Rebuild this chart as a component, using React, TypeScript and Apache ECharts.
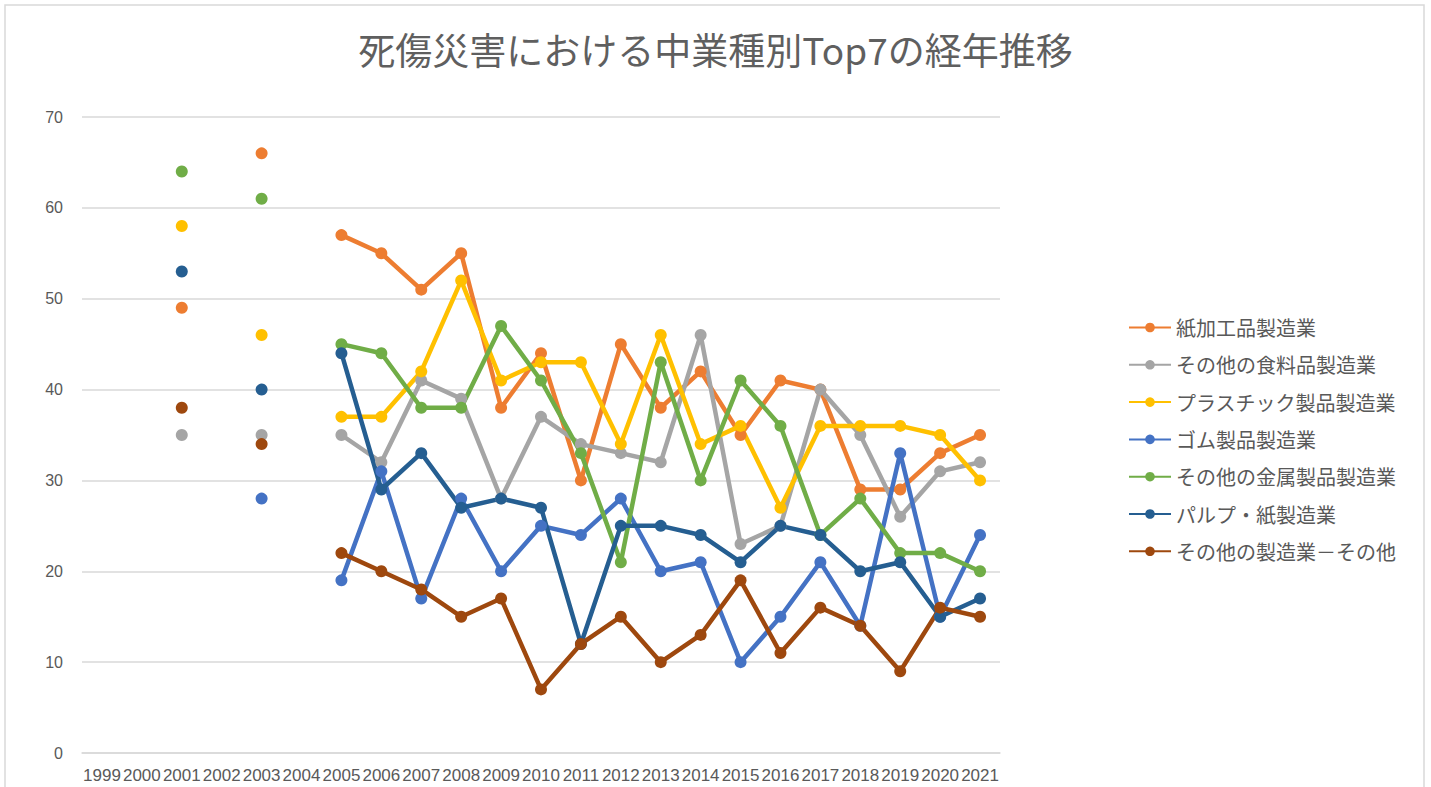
import React, { useEffect, useRef } from "react";
import * as echarts from "echarts";

const years = ["1999","2000","2001","2002","2003","2004","2005","2006","2007","2008","2009","2010","2011","2012","2013","2014","2015","2016","2017","2018","2019","2020","2021"];
const names = ["紙加工品製造業","その他の食料品製造業","プラスチック製品製造業","ゴム製品製造業","その他の金属製品製造業","パルプ・紙製造業","その他の製造業－その他"];
const colors = ["#ED7D31","#A5A5A5","#FFC000","#4472C4","#70AD47","#255E91","#9E480E"];
const N = null;
const paper =    [N,N,49,N,66,N,57,55,51,55,38,44,30,45,38,42,35,41,40,29,29,33,35];
const food =     [N,N,35,N,35,N,35,32,41,39,28,37,34,33,32,46,23,25,40,35,26,31,32];
const plastic =  [N,N,58,N,46,N,37,37,42,52,41,43,43,34,46,34,36,27,36,36,36,35,30];
const rubber =   [N,N,N,N,28,N,19,31,17,28,20,25,24,28,20,21,10,15,21,14,33,15,24];
const metal =    [N,N,64,N,61,N,45,44,38,38,47,41,33,21,43,30,41,36,24,28,22,22,20];
const pulp =     [N,N,53,N,40,N,44,29,33,27,28,27,12,25,25,24,21,25,24,20,21,15,17];
const otherMfg = [N,N,38,N,34,N,22,20,18,15,17,7,12,15,10,13,19,11,16,14,9,16,15];
const seriesData = [paper, food, plastic, rubber, metal, pulp, otherMfg];

export default function App() {
  const ref = useRef<HTMLDivElement>(null);
  useEffect(() => {
    document.body.style.margin = "0";
    const chart = echarts.init(ref.current!, null, { renderer: "svg" });
    chart.setOption({
      animation: false,
      backgroundColor: "#ffffff",
      title: {
        text: "死傷災害における中業種別Top7の経年推移",
        left: "center",
        top: 25,
        textStyle: { fontSize: 37, fontWeight: "normal", color: "#5f5f5f", fontFamily: "'Noto Sans CJK JP', sans-serif" },
      },
      graphic: [
        { type: "rect", shape: { x: 5, y: 5, width: 1419, height: 800 }, style: { fill: "none", stroke: "#D9D9D9", lineWidth: 1.5 }, silent: true },
      ],
      legend: {
        orient: "vertical",
        left: 1123,
        top: 309,
        itemGap: 10.3,
        itemWidth: 42,
        itemHeight: 12,
        textStyle: { fontSize: 20, lineHeight: 27, color: "#595959", fontFamily: "'Noto Sans CJK JP', sans-serif" },
        data: names,
      },
      grid: { left: 82, right: 431, top: 117, bottom: 34 },
      xAxis: {
        type: "category",
        data: years,
        boundaryGap: true,
        axisLine: { lineStyle: { color: "#D9D9D9", width: 1.5 } },
        axisTick: { show: false },
        axisLabel: { interval: 0, fontSize: 17, color: "#595959", margin: 14, fontFamily: "'Liberation Sans Narrow', 'Liberation Sans', sans-serif" },
      },
      yAxis: {
        type: "value",
        min: 0,
        max: 70,
        interval: 10,
        axisLine: { show: false },
        axisTick: { show: false },
        splitLine: { lineStyle: { color: "#D9D9D9", width: 1.5 } },
        axisLabel: { fontSize: 16, color: "#595959", margin: 19, fontFamily: "'Liberation Sans', sans-serif" },
      },
      series: names.map((n, i) => ({
        name: n,
        type: "line",
        data: seriesData[i],
        connectNulls: false,
        symbol: "circle",
        symbolSize: 12,
        showSymbol: true,
        itemStyle: { color: colors[i] },
        lineStyle: { color: colors[i], width: 4.5 },
        emphasis: { disabled: true },
      })),
    });
    return () => chart.dispose();
  }, []);
  return <div ref={ref} style={{ width: 1431, height: 787 }} />;
}
